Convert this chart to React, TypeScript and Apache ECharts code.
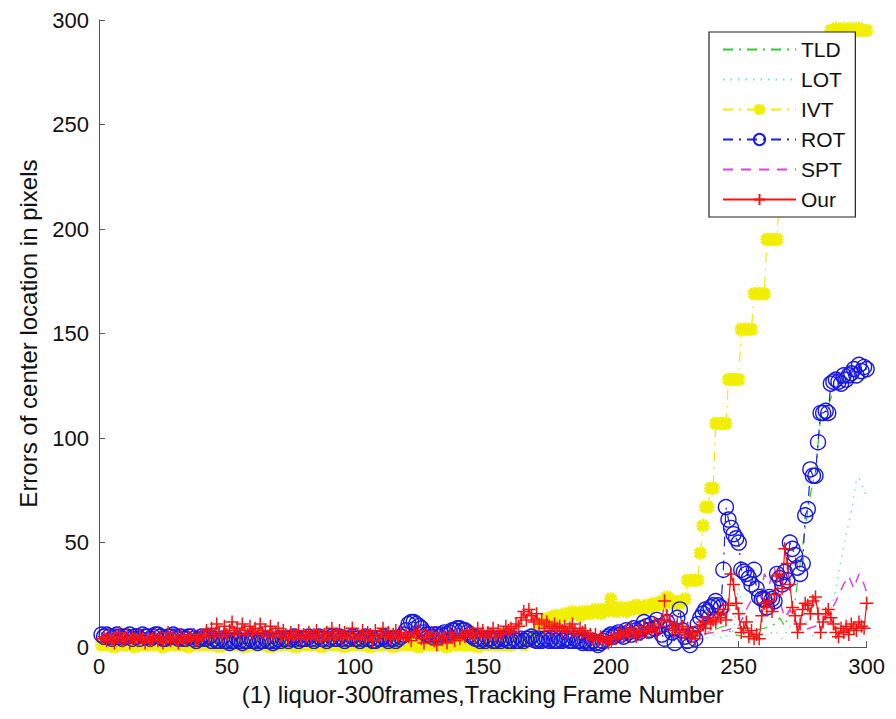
import React, { useEffect, useRef } from "react";
import * as echarts from "echarts";

// Frame-by-frame values (frames 1..300)
const ourValues = [
  4,5,3,6,4,2,5,7,3,4,6,2,5,4,3,6,4,2,5,3,
  4,6,3,5,2,4,7,3,5,4,2,6,4,3,5,4,6,3,4,5,
  6,8,5,9,6,11,7,5,10,6,8,12,7,9,6,11,8,6,10,7,
  9,6,11,7,8,5,10,6,7,9,5,8,6,4,7,5,6,8,4,6,
  5,7,4,6,8,5,3,6,7,4,9,5,6,8,4,7,5,6,9,4,
  6,5,8,4,7,6,3,8,5,6,9,5,7,4,6,8,5,7,4,6,
  5,3,7,6,8,4,2,6,5,7,3,1,6,4,5,2,7,5,3,6,
  4,6,5,8,6,7,5,9,6,8,5,7,6,9,5,8,6,7,10,8,
  9,7,11,10,14,17,13,18,15,12,16,11,13,9,12,10,8,11,9,10,
  8,10,7,9,11,8,6,9,7,8,5,6,4,6,3,5,4,3,2,4,
  5,4,6,7,5,8,6,9,7,5,8,6,10,7,9,8,11,7,10,13,
  22,15,12,9,8,11,7,10,6,9,5,7,4,8,10,12,9,14,11,13,
  12,16,14,18,13,20,35,30,21,16,7,9,12,5,8,4,6,4,15,21,
  19,22,17,25,34,35,28,47,40,30,19,15,7,11,18,21,20,16,22,24,
  16,7,12,16,18,14,11,7,5,9,7,10,6,11,9,8,12,10,9,21,
];

const rotValues = [
  6,5,6,5,4,5,6,5,4,5,5,6,4,5,5,4,6,5,5,4,
  5,6,6,5,4,4,5,5,6,5,4,5,4,4,5,5,4,3,4,5,
  4,4,5,3,4,3,3,4,3,3,2,3,3,4,3,2,3,3,4,3,
  3,2,3,3,4,3,3,2,3,4,3,4,4,3,4,5,4,3,4,4,
  4,5,4,3,4,5,4,4,3,4,5,4,4,5,4,3,4,4,5,4,
  4,3,4,5,4,4,3,3,4,4,5,4,3,4,4,3,4,5,6,8,
  11,12,12,11,10,9,7,6,6,5,6,6,5,6,7,6,7,8,8,9,
  9,8,8,7,6,5,4,4,3,4,3,4,4,3,3,4,3,4,4,3,
  3,4,3,3,4,3,4,4,5,4,3,4,3,4,4,3,4,3,3,4,
  3,4,4,3,3,4,3,3,2,3,2,2,3,2,1,2,3,4,5,6,
  5,6,7,6,5,8,7,6,9,8,7,9,12,10,8,11,9,13,10,6,
  4,12,9,7,2,14,18,8,5,3,1,6,4,11,14,16,18,17,19,20,
  22,20,19,37,67,61,57,54,52,50,37,36,35,33,30,37,28,24,23,23,
  19,24,23,22,35,33,30,36,32,50,47,44,38,35,40,63,66,85,82,82,
  98,112,112,113,112,126,127,128,127,126,130,128,130,131,133,130,135,132,134,133,
];

const ivtValues = [
  1,1,2,1,1,0,1,2,1,1,1,2,1,0,1,1,2,1,1,1,
  1,2,1,1,0,1,1,2,1,1,2,1,1,1,0,1,2,1,1,1,
  2,1,1,1,2,1,0,1,1,2,1,1,1,2,1,1,0,1,1,2,
  1,1,2,1,1,1,0,1,2,1,1,1,2,1,1,1,0,1,1,2,
  1,1,1,2,1,1,0,1,1,2,1,1,2,1,1,0,1,1,2,1,
  1,2,1,1,1,0,1,2,1,1,1,2,1,1,0,1,1,2,1,1,
  2,1,1,1,0,1,2,2,1,1,1,2,1,1,1,0,1,2,1,1,
  1,2,1,1,1,2,1,0,1,1,2,1,1,2,1,1,1,2,1,1,
  1,2,2,3,2,1,2,3,4,5,7,9,11,12,13,14,14,15,15,14,
  15,16,15,16,17,16,16,15,17,16,17,16,17,18,17,16,18,17,18,23,
  18,17,18,19,18,17,19,18,19,20,19,18,19,20,19,20,21,20,21,22,
  21,24,21,22,22,21,21,22,23,32,32,32,32,32,45,58,67,67,76,76,
  107,107,107,107,107,128,128,128,128,128,152,152,152,152,152,169,169,169,169,169,
  195,195,195,195,195,222,222,222,222,222,245,245,245,245,245,270,270,270,270,270,
  290,290,290,290,290,295,295,296,295,295,296,295,295,296,295,295,296,295,295,295,
];

// Sparser line-only series (frame, value)
const tldFrames = [1,5,10,15,20,25,30,35,40,45,50,55,60,65,70,75,80,85,90,95,100,105,110,115,120,125,130,135,140,145,150,155,160,165,170,175,180,185,190,195,200,205,210,215,220,225,230,235,240,244,248,252,256,260,264,266,268,270,272,274,276,278,280,282,284,288,292,296,300];
const tldValues = [4,5,3,4,5,4,3,4,5,4,3,4,4,5,3,4,4,3,5,4,4,3,4,5,4,5,4,3,4,5,4,3,4,5,4,3,4,3,4,3,4,5,6,5,7,6,5,6,8,10,6,5,8,9,11,14,10,18,22,40,57,73,84,110,112,126,128,131,133];

const lotFrames = [1,5,10,15,20,25,30,35,40,45,50,55,60,65,70,75,80,85,90,95,100,105,110,115,120,125,130,135,140,145,150,155,160,165,170,175,180,185,190,195,200,205,210,215,220,225,230,235,240,244,248,250,252,255,258,261,264,267,270,273,276,279,282,285,288,291,294,296,297,300];
const lotValues = [3,2,3,4,2,3,3,2,4,3,2,3,3,4,2,3,3,2,3,4,3,2,3,3,4,2,3,3,2,3,4,3,2,3,3,2,4,3,3,2,3,4,3,4,3,5,4,3,6,4,8,30,12,6,9,5,8,4,10,6,13,5,9,12,28,48,65,80,81,72];

const sptFrames = [1,5,10,15,20,25,30,35,40,45,50,55,60,65,70,75,80,85,90,95,100,105,110,115,120,125,130,135,140,145,150,155,160,165,170,175,180,185,190,195,200,205,210,215,220,225,230,235,240,245,250,253,256,258,260,262,264,266,268,270,272,275,280,285,288,291,293,295,297,299,300];
const sptValues = [4,5,4,3,5,4,4,5,3,4,5,4,3,4,5,4,4,3,5,4,4,5,3,4,4,5,4,3,4,5,4,4,3,5,4,4,5,4,3,4,4,5,4,5,6,5,4,6,7,8,10,18,25,20,35,30,38,22,14,18,12,8,10,15,22,30,34,28,35,30,26];

const xTicks = { min: 0, max: 300, interval: 50 };
const yTicks = { min: 0, max: 300, interval: 50 };

const seriesNames = ["TLD", "LOT", "IVT", "ROT", "SPT", "Our"];
const markerlessNames = ["TLD", "LOT", "SPT"];

const byFrame = (vals: number[]) => vals.map((v, i) => [i + 1, v]);
const pairs = (fr: number[], vals: number[]) => fr.map((f, i) => [f, vals[i]]);

const FONT = "Liberation Sans, Arial, Helvetica, sans-serif";

export default function App() {
  const ref = useRef<HTMLDivElement>(null);
  useEffect(() => {
    if (!ref.current) return;
    const chart = echarts.init(ref.current, undefined, { renderer: "svg" });
    const axisCommon = {
      axisLine: { show: true, lineStyle: { color: "#555", width: 1 } },
      axisTick: { show: true, inside: true, length: 6, lineStyle: { color: "#555" } },
      splitLine: { show: false },
      nameTextStyle: { color: "#111", fontSize: 24, fontFamily: FONT },
    };
    chart.setOption({
      animation: false,
      backgroundColor: "#fff",
      textStyle: { fontFamily: FONT },
      grid: { left: 85, right: 15, top: 12, bottom: 60 },
      xAxis: {
        type: "value",
        ...xTicks,
        ...axisCommon,
        name: "(1) liquor-300frames,Tracking Frame Number",
        nameLocation: "middle",
        nameGap: 27,
        axisLabel: { color: "#111", fontSize: 22, margin: 8, fontFamily: FONT },
      },
      yAxis: {
        type: "value",
        ...yTicks,
        ...axisCommon,
        name: "Errors of center location in pixels",
        nameLocation: "middle",
        nameGap: 59,
        axisLabel: { color: "#111", fontSize: 22, margin: 10, fontFamily: FONT },
      },
      legend: {
        data: seriesNames.map((n) =>
          markerlessNames.includes(n) ? { name: n, itemStyle: { opacity: 0 } } : { name: n }
        ),
        orient: "vertical",
        left: 701,
        top: 24,
        padding: [7, 10, 7, 13],
        itemWidth: 73,
        itemHeight: 14,
        itemGap: 9,
        backgroundColor: "#fff",
        borderColor: "#222",
        borderWidth: 1.2,
        borderRadius: 0,
        textStyle: { color: "#111", fontSize: 21, fontFamily: FONT },
      },
      series: [
        {
          name: "TLD",
          type: "line",
          data: pairs(tldFrames, tldValues),
          symbol: "none",
          lineStyle: { color: "#2ecc2e", width: 1.2, type: [10, 6, 2, 6] },
          itemStyle: { color: "#2ecc2e" },
        },
        {
          name: "LOT",
          type: "line",
          data: pairs(lotFrames, lotValues),
          symbol: "none",
          lineStyle: { color: "#6fe3e3", width: 1.5, type: [1.5, 6] },
          itemStyle: { color: "#6fe3e3" },
        },
        {
          name: "IVT",
          type: "line",
          data: byFrame(ivtValues),
          symbol: "path://M6 0L6 12M0 6L12 6M1.8 1.8L10.2 10.2M10.2 1.8L1.8 10.2M3 0.5L9 11.5M9 0.5L3 11.5M0.5 3L11.5 9M0.5 9L11.5 3",
          symbolSize: 13,
          lineStyle: { color: "#f2ee00", width: 1.2, type: [10, 6, 2, 6] },
          itemStyle: { color: "#f2ee00", borderColor: "#f2ee00", borderWidth: 2 },
        },
        {
          name: "ROT",
          type: "line",
          data: byFrame(rotValues),
          symbol: "circle",
          symbolSize: 15,
          lineStyle: { color: "#2222cc", width: 1.2, type: [10, 6, 2, 6] },
          itemStyle: { color: "rgba(0,0,0,0)", borderColor: "#1818e6", borderWidth: 1.4 },
        },
        {
          name: "SPT",
          type: "line",
          data: pairs(sptFrames, sptValues),
          symbol: "none",
          lineStyle: { color: "#dd44dd", width: 1.5, type: [10, 8] },
          itemStyle: { color: "#dd44dd" },
        },
        {
          name: "Our",
          type: "line",
          data: byFrame(ourValues),
          symbol: "path://M6 0L6 12M0 6L12 6",
          symbolSize: 13,
          lineStyle: { color: "#ff1010", width: 1.2 },
          itemStyle: { color: "#ff1010", borderColor: "#ff1010", borderWidth: 1.5 },
        },
      ],
    });
    return () => chart.dispose();
  }, []);
  return <div ref={ref} style={{ width: 880, height: 703 }} />;
}
